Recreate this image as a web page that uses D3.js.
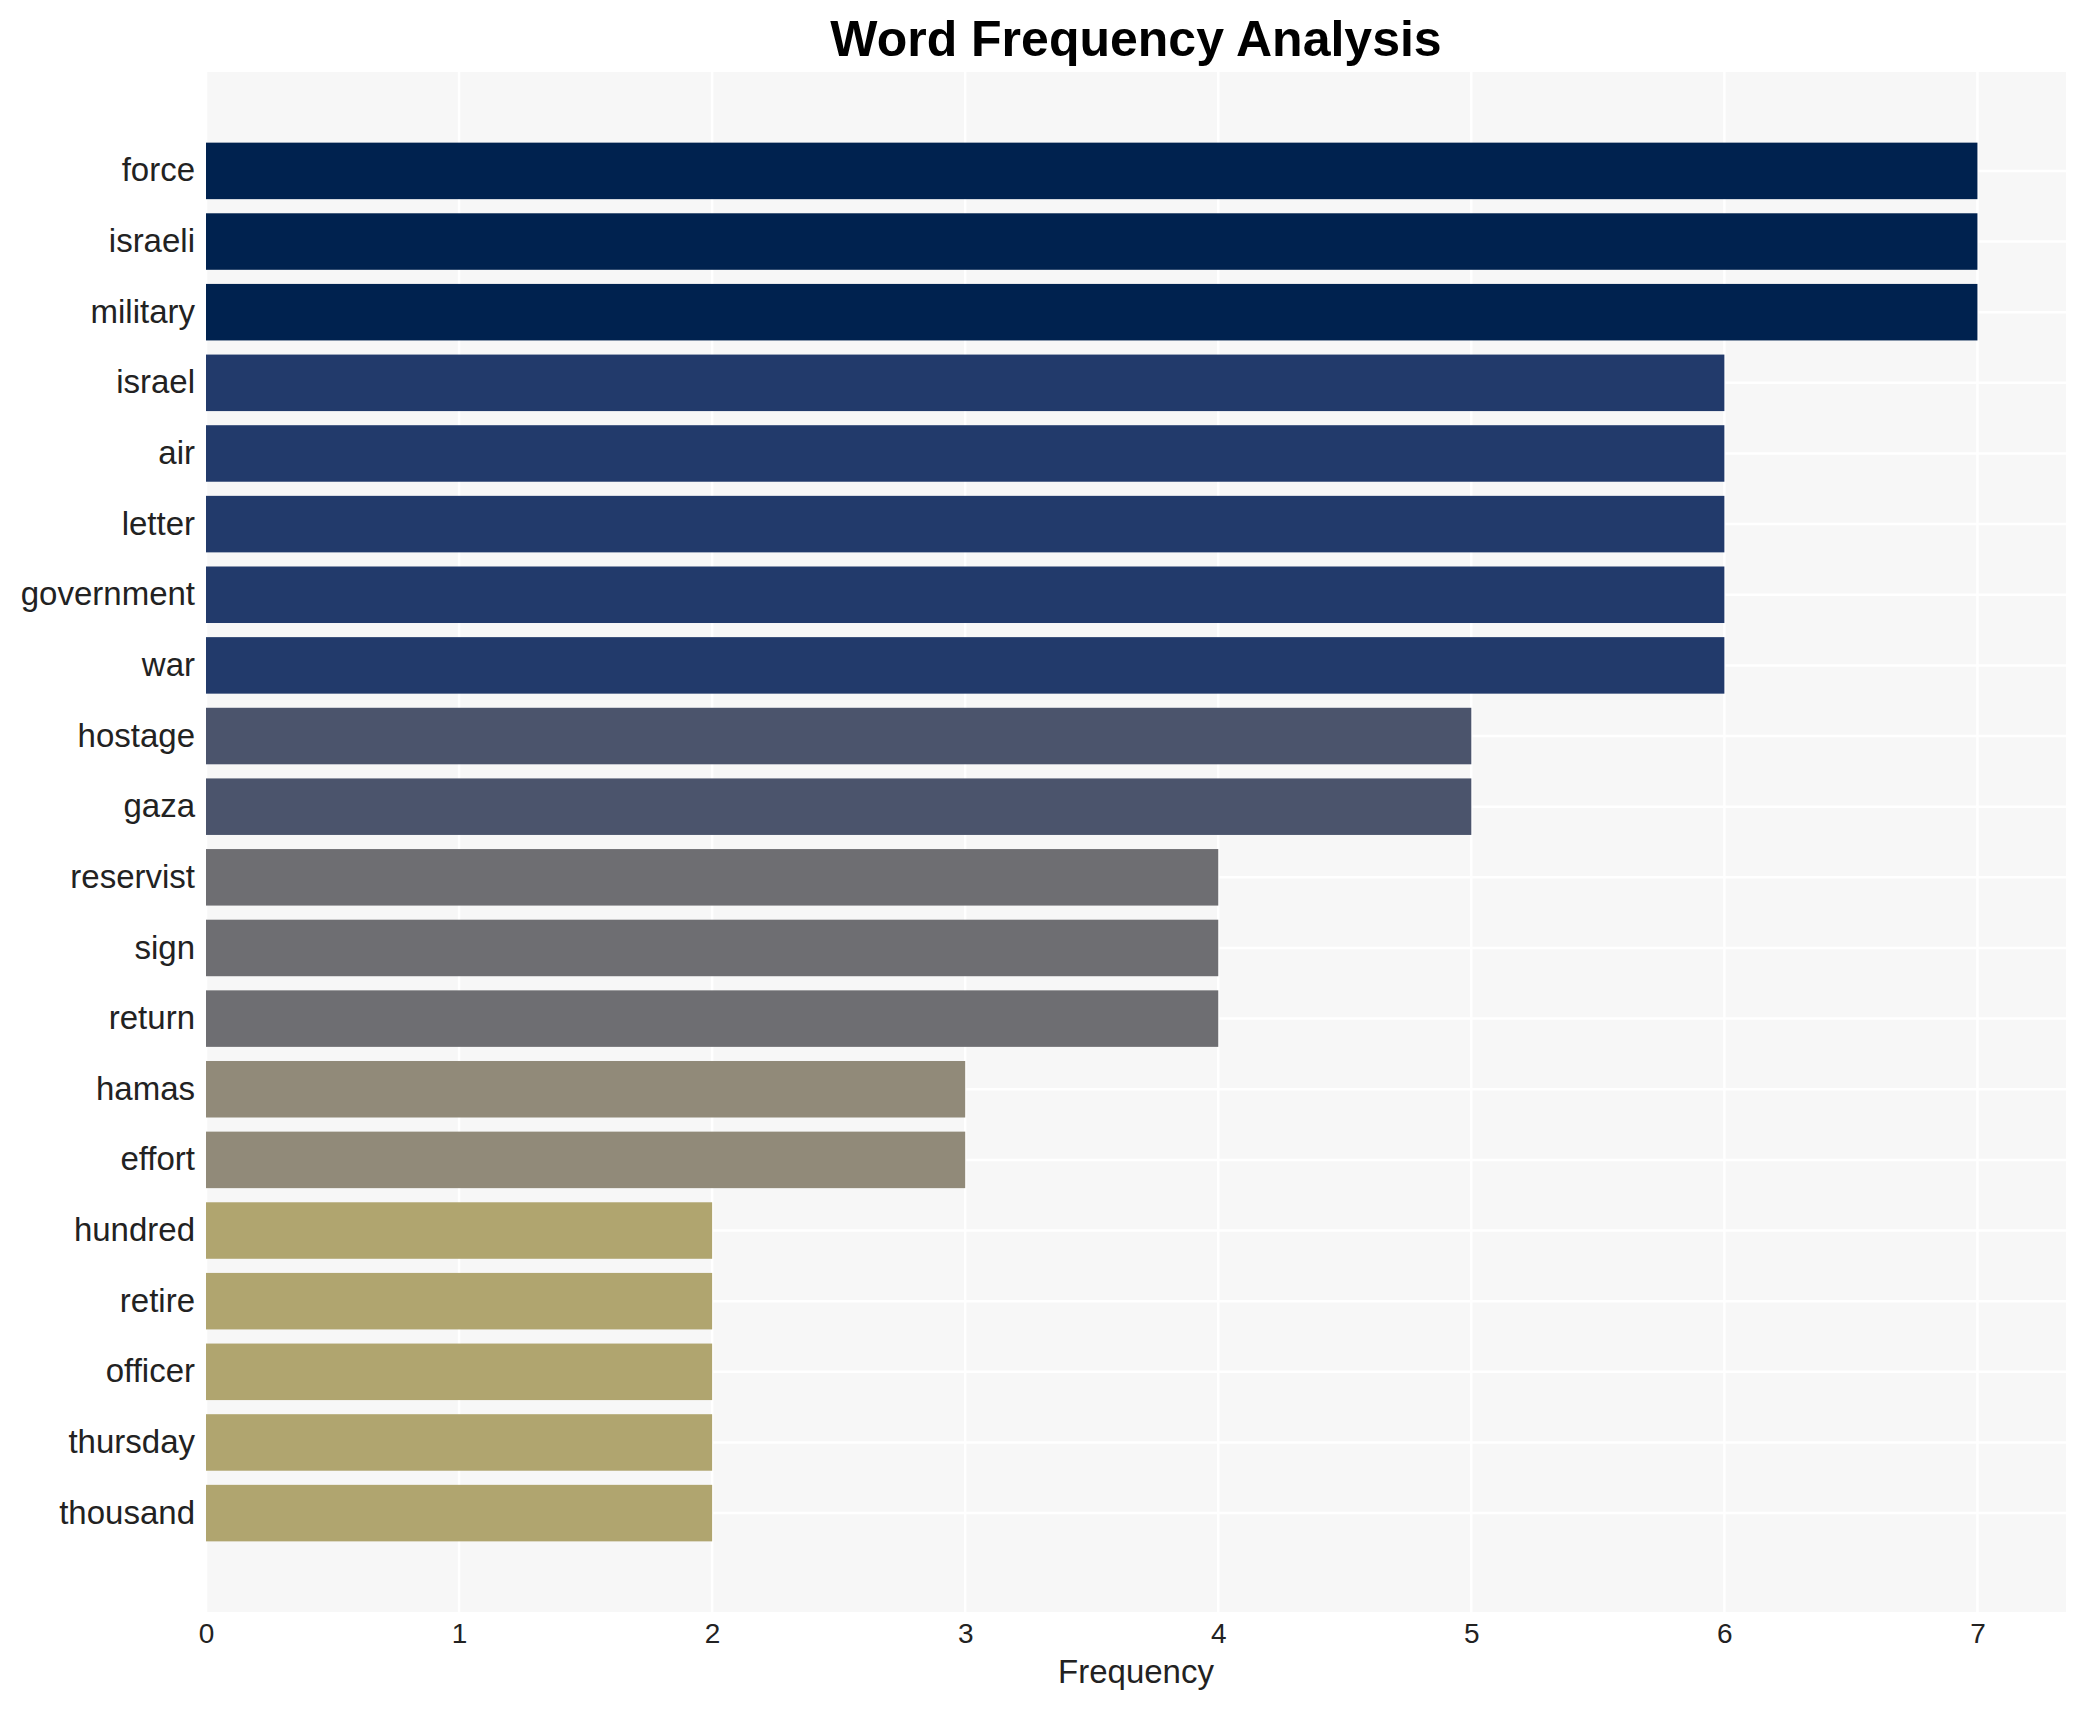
<html>
<head>
    <meta content="text/html;charset=utf-8" http-equiv="Content-Type"/>
    <style>
        body { margin: 0; background: #ffffff; }
        text { font-family: "Liberation Sans", Arial, sans-serif; }
    </style>
</head>
<body>

<svg id="chart" width="2085" height="1710"></svg>

<script src="https://cdnjs.cloudflare.com/ajax/libs/d3/7.8.5/d3.min.js"></script>
<script>
    // word counts, top to bottom
    const words = ["force", "israeli", "military", "israel", "air", "letter", "government", "war",
        "hostage", "gaza", "reservist", "sign", "return", "hamas", "effort",
        "hundred", "retire", "officer", "thursday", "thousand"];
    const counts = [7, 7, 7, 6, 6, 6, 6, 6, 5, 5, 4, 4, 4, 3, 3, 2, 2, 2, 2, 2];

    // bar colour by count
    const colourCounts = [2, 3, 4, 5, 6, 7];
    const colourHex = ["#b0a56f", "#918a79", "#6e6e72", "#4b546c", "#223a6b", "#00224f"];

    const xTicks = [0, 1, 2, 3, 4, 5, 6, 7];

    const panel = {left: 206, right: 2066, top: 72, bottom: 1612};
    const textColour = "#222222";

    const data = words.map((w, i) => ({word: w, count: counts[i]}));

    const x = d3.scaleLinear()
        .domain([0, 7.35])
        .range([panel.left, panel.right]);

    const y = d3.scaleBand()
        .domain(words)
        .range([panel.top, panel.bottom])
        .paddingInner(0.2)
        .paddingOuter(1.0);

    const colour = d3.scaleOrdinal()
        .domain(colourCounts)
        .range(colourHex);

    const svg = d3.select("#chart");

    // panel background
    svg.append("rect")
        .attr("x", panel.left)
        .attr("y", panel.top)
        .attr("width", panel.right - panel.left)
        .attr("height", panel.bottom - panel.top)
        .attr("fill", "#f7f7f7");

    // grid
    const grid = svg.append("g").attr("id", "grid");
    grid.selectAll("line.v")
        .data(xTicks)
        .enter()
        .append("line")
        .attr("class", "v")
        .attr("x1", d => x(d))
        .attr("x2", d => x(d))
        .attr("y1", panel.top)
        .attr("y2", panel.bottom)
        .attr("stroke", "#ffffff")
        .attr("stroke-width", 2.5);
    grid.selectAll("line.h")
        .data(words)
        .enter()
        .append("line")
        .attr("class", "h")
        .attr("x1", panel.left)
        .attr("x2", panel.right)
        .attr("y1", d => y(d) + y.bandwidth() / 2)
        .attr("y2", d => y(d) + y.bandwidth() / 2)
        .attr("stroke", "#ffffff")
        .attr("stroke-width", 2.5);

    // bars
    svg.append("g")
        .attr("id", "bars")
        .selectAll("rect")
        .data(data)
        .enter()
        .append("rect")
        .attr("x", x(0))
        .attr("y", d => y(d.word))
        .attr("width", d => x(d.count) - x(0))
        .attr("height", y.bandwidth())
        .attr("fill", d => colour(d.count));

    // axes
    const xAxis = svg.append("g")
        .attr("transform", `translate(0,${panel.bottom})`)
        .call(d3.axisBottom(x).tickValues(xTicks).tickFormat(d3.format("d")).tickSize(0).tickPadding(11));
    xAxis.select(".domain").remove();
    xAxis.selectAll("text")
        .attr("font-size", 28)
        .attr("font-family", "Liberation Sans, Arial, sans-serif")
        .attr("fill", textColour);

    const yAxis = svg.append("g")
        .attr("transform", `translate(${panel.left},0)`)
        .call(d3.axisLeft(y).tickSize(0).tickPadding(11));
    yAxis.select(".domain").remove();
    yAxis.selectAll("text")
        .attr("font-size", 33)
        .attr("font-family", "Liberation Sans, Arial, sans-serif")
        .attr("fill", textColour);

    // titles
    svg.append("text")
        .attr("x", (panel.left + panel.right) / 2)
        .attr("y", 56)
        .attr("text-anchor", "middle")
        .attr("font-size", 50)
        .attr("font-weight", "bold")
        .attr("fill", "#000000")
        .text("Word Frequency Analysis");

    svg.append("text")
        .attr("x", (panel.left + panel.right) / 2)
        .attr("y", 1683)
        .attr("text-anchor", "middle")
        .attr("font-size", 33)
        .attr("fill", textColour)
        .text("Frequency");
</script>

</body>
</html>
